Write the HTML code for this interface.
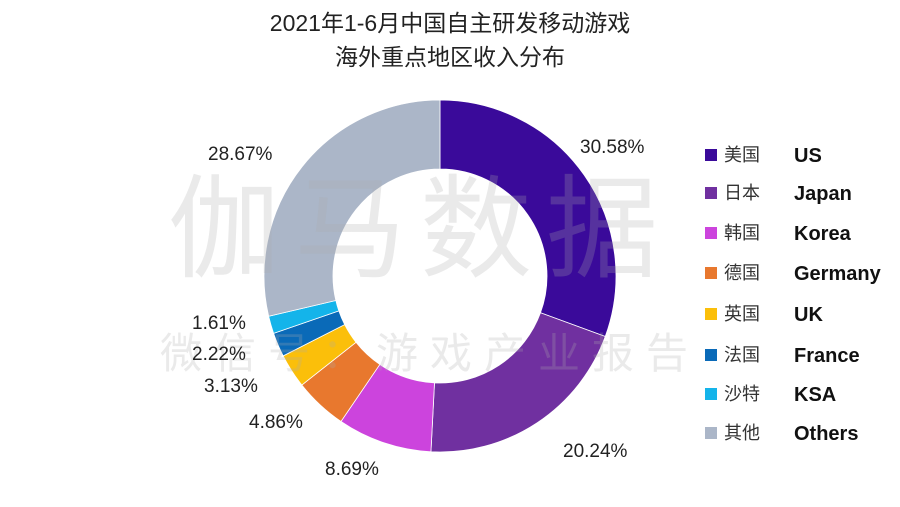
<!DOCTYPE html>
<html><head><meta charset="utf-8"><style>
body{margin:0;width:900px;height:507px;background:#fff;overflow:hidden;font-family:"Liberation Sans","Noto Sans CJK SC",sans-serif}
</style></head><body>
<svg width="900" height="507" xmlns="http://www.w3.org/2000/svg" style="position:absolute;left:0;top:0">
<g id="pie"></g>
<g font-family="Liberation Sans, Noto Sans CJK SC, sans-serif" fill="rgba(170,170,170,0.25)">
<text x="420" y="268" font-size="112" text-anchor="middle" letter-spacing="14">伽马数据</text>
<text x="430" y="368" font-size="42" text-anchor="middle" letter-spacing="12">微信号：游戏产业报告</text>
</g>
<g font-family="Liberation Sans, Noto Sans CJK SC, sans-serif" fill="#222" font-size="23" text-anchor="middle">
<text x="450" y="31">2021年1-6月中国自主研发移动游戏</text>
<text x="450" y="65">海外重点地区收入分布</text>
</g>
<g font-family="Liberation Sans, sans-serif" fill="#222" font-size="19">
<text x="580" y="153">30.58%</text>
<text x="563" y="457">20.24%</text>
<text x="325" y="475">8.69%</text>
<text x="249" y="428">4.86%</text>
<text x="204" y="392">3.13%</text>
<text x="192" y="360">2.22%</text>
<text x="192" y="329">1.61%</text>
<text x="208" y="160">28.67%</text>
</g>
<g id="leg" font-family="Liberation Sans, Noto Sans CJK SC, sans-serif"></g>
</svg>
<script>
var d=[["#3a0a9a",30.58,"美国","US"],["#7030a0",20.24,"日本","Japan"],["#cc44dd",8.69,"韩国","Korea"],["#e8782e",4.86,"德国","Germany"],["#fbbf0a",3.13,"英国","UK"],["#0a6ab8",2.22,"法国","France"],["#14b4ea",1.61,"沙特","KSA"],["#abb6c8",28.67,"其他","Others"]];
var cx=440,cy=276,R=176,r=107,a=0,s="",l="";
function p(rad,ang){return [cx+rad*Math.sin(ang),cy-rad*Math.cos(ang)];}
var ys=[155,193,233,273,314,355,394,433];
d.forEach(function(e,i){var a1=a+e[1]/100*2*Math.PI,lg=(a1-a)>Math.PI?1:0;
var A=p(R,a),B=p(R,a1),C=p(r,a1),D=p(r,a);
s+='<path d="M'+A+' A'+R+' '+R+' 0 '+lg+' 1 '+B+' L'+C+' A'+r+' '+r+' 0 '+lg+' 0 '+D+'Z" fill="'+e[0]+'" stroke="#fff" stroke-width="0.8"/>';a=a1;
var y=ys[i];l+='<rect x="705" y="'+(y-6)+'" width="12" height="12" fill="'+e[0]+'"/><text x="724" y="'+(y+6)+'" font-size="18" fill="#333">'+e[2]+'</text><text x="794" y="'+(y+7)+'" font-size="20" font-weight="bold" fill="#111">'+e[3]+'</text>';});
document.getElementById("pie").innerHTML=s;document.getElementById("leg").innerHTML=l;
</script>
</body></html>
